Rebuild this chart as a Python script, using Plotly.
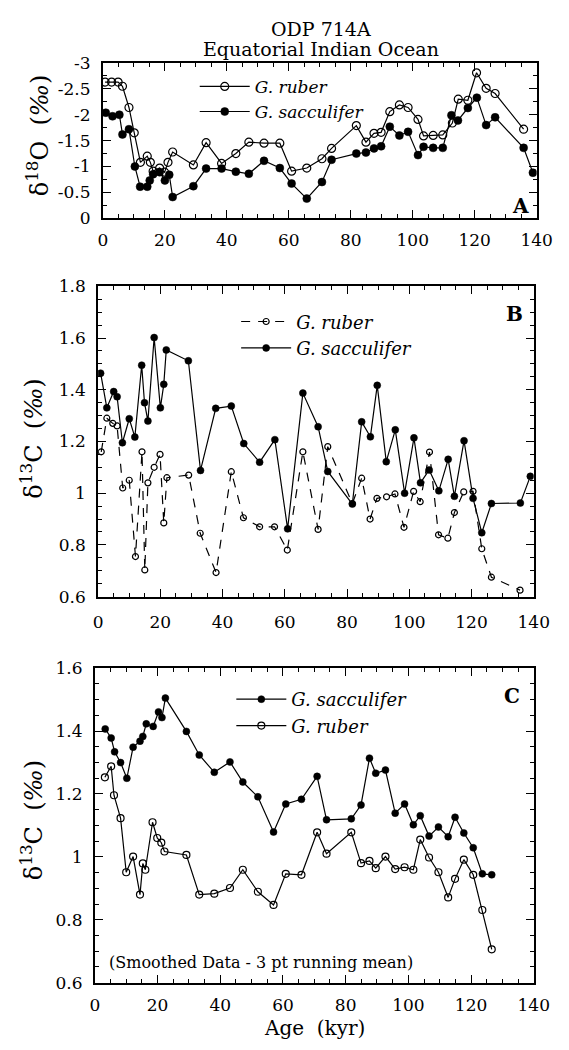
import plotly.graph_objects as go

# ---------------- Data ----------------
# Panel A: delta 18O
a_ruber_age = [0.7, 2.8, 4.9, 6.3, 8.4, 10.1, 12.1, 14.3, 15.3, 16.2, 18.3, 19.9, 21.0, 22.5,
               29.2, 33.3, 38.3, 42.9, 47.1, 52.0, 57.1, 60.9, 65.8, 70.7, 73.8, 81.8, 84.9,
               87.5, 89.8, 92.6, 95.7, 98.5, 101.7, 103.5, 106.6, 109.7, 112.8, 114.7, 117.8,
               120.6, 123.7, 126.6, 135.8]
a_ruber_d18o = [-2.63, -2.63, -2.63, -2.55, -2.14, -1.65, -1.08, -1.20, -1.08, -0.91, -0.97, -0.89,
                -1.08, -1.28, -1.03, -1.46, -1.06, -1.25, -1.47, -1.45, -1.45, -0.91, -0.97, -1.15,
                -1.35, -1.79, -1.47, -1.64, -1.66, -2.06, -2.19, -2.14, -1.91, -1.59, -1.60, -1.61,
                -1.84, -2.30, -2.28, -2.81, -2.51, -2.41, -1.72]
a_sacc_age = [0.9, 3.1, 5.3, 6.3, 8.4, 10.3, 12.0, 14.3, 15.1, 16.2, 18.3, 20.0, 21.4, 22.5,
              29.2, 33.3, 38.3, 42.9, 47.1, 52.0, 57.1, 60.9, 65.8, 70.7, 73.8, 81.8, 84.9,
              87.5, 89.8, 92.6, 95.7, 98.5, 101.7, 103.5, 106.6, 109.7, 112.5, 114.6, 117.8,
              120.7, 123.7, 126.6, 135.8, 138.8]
a_sacc_d18o = [-2.04, -1.97, -2.00, -1.62, -1.72, -1.00, -0.61, -0.61, -0.73, -0.85, -0.89, -0.73,
               -0.84, -0.41, -0.62, -0.96, -0.96, -0.90, -0.86, -1.11, -0.97, -0.67, -0.38, -0.70,
               -1.13, -1.25, -1.27, -1.35, -1.39, -1.77, -1.60, -1.67, -1.22, -1.38, -1.36, -1.36,
               -1.99, -1.89, -2.13, -2.33, -1.80, -1.95, -1.36, -0.88]

# Panel B: delta 13C (raw)
b_ruber_age = [1.0, 2.8, 4.7, 6.1, 7.9, 10.0, 12.0, 14.1, 15.0, 16.0, 18.0, 19.9, 21.1, 22.1,
               29.1, 32.8, 37.9, 42.8, 46.7, 51.9, 56.7, 60.8, 65.8, 70.7, 73.8, 81.7, 84.7,
               87.4, 89.6, 92.7, 95.4, 98.3, 101.4, 103.5, 106.5, 109.4, 112.4, 114.5, 117.5,
               120.5, 123.3, 126.4, 135.6]
b_ruber_d13c = [1.16, 1.29, 1.27, 1.26, 1.02, 1.05, 0.755, 1.16, 0.703, 1.04, 1.10, 1.15, 0.885,
                1.06, 1.07, 0.845, 0.693, 1.083, 0.905, 0.87, 0.87, 0.78, 1.16, 0.86, 1.18, 0.96,
                1.058, 0.90, 0.98, 0.986, 0.997, 0.868, 1.007, 0.967, 1.159, 0.839, 0.826, 0.925,
                1.005, 1.007, 0.785, 0.675, 0.625]
b_sacc_age = [0.8, 2.8, 5.0, 6.1, 7.8, 10.0, 11.8, 14.0, 14.9, 16.0, 18.0, 20.0, 21.1, 21.9,
              29.0, 32.9, 37.8, 42.8, 46.8, 51.9, 56.8, 60.9, 65.8, 70.7, 73.8, 81.7, 84.7,
              87.5, 89.7, 92.6, 95.5, 98.5, 101.5, 103.6, 106.4, 109.5, 112.5, 114.5, 117.6,
              120.5, 123.3, 126.4, 135.7, 138.9]
b_sacc_d13c = [1.464, 1.330, 1.393, 1.373, 1.195, 1.288, 1.217, 1.495, 1.350, 1.279, 1.602,
               1.330, 1.421, 1.554, 1.512, 1.088, 1.328, 1.337, 1.192, 1.120, 1.207, 0.862,
               1.387, 1.257, 1.084, 0.958, 1.276, 1.218, 1.417, 1.122, 1.245, 1.000, 1.214,
               1.040, 1.090, 1.009, 1.131, 0.988, 1.203, 0.980, 0.847, 0.960, 0.962, 1.065]

# Panel C: delta 13C (3-pt running mean)
c_sacc_age = [3.3, 5.2, 6.3, 8.2, 10.2, 12.2, 14.4, 15.3, 16.4, 18.6, 20.3, 21.4, 22.5, 29.2,
              33.3, 38.1, 43.1, 47.2, 52.0, 57.0, 60.9, 65.9, 70.9, 73.9, 81.8, 84.9, 87.6,
              89.6, 92.7, 95.8, 98.8, 101.6, 103.8, 106.6, 109.6, 112.7, 114.9, 117.7, 120.7,
              123.6, 126.6]
c_sacc_d13c = [1.407, 1.378, 1.334, 1.300, 1.250, 1.349, 1.368, 1.383, 1.423, 1.415, 1.461,
               1.443, 1.505, 1.399, 1.324, 1.269, 1.302, 1.238, 1.191, 1.079, 1.168, 1.183,
               1.256, 1.118, 1.121, 1.165, 1.314, 1.266, 1.276, 1.139, 1.168, 1.102, 1.131,
               1.066, 1.095, 1.064, 1.126, 1.076, 1.029, 0.946, 0.943]
c_ruber_age = [3.2, 5.2, 6.1, 8.2, 10.0, 12.2, 14.4, 15.3, 16.1, 18.4, 19.9, 21.2, 22.2, 29.2,
               33.3, 38.1, 43.1, 47.2, 52.0, 57.0, 60.9, 65.9, 70.9, 73.9, 81.8, 84.9, 87.6,
               89.6, 92.7, 95.8, 98.8, 101.6, 103.8, 106.6, 109.6, 112.7, 114.9, 117.7, 120.7,
               123.6, 126.6]
c_ruber_d13c = [1.253, 1.288, 1.196, 1.123, 0.951, 1.001, 0.880, 0.979, 0.959, 1.110, 1.060,
                1.045, 1.017, 1.006, 0.880, 0.883, 0.901, 0.959, 0.889, 0.847, 0.946, 0.943,
                1.078, 1.010, 1.078, 0.980, 0.987, 0.964, 1.001, 0.961, 0.967, 0.959, 1.055,
                0.998, 0.951, 0.871, 0.930, 0.991, 0.943, 0.831, 0.706]

x_ticks = [0, 20, 40, 60, 80, 100, 120, 140]
a_yticks = [-3, -2.5, -2, -1.5, -1, -0.5, 0]
a_yticktext = ["-3", "-2.5", "-2", "-1.5", "-1", "-0.5", "0"]
b_yticks = [0.6, 0.8, 1.0, 1.2, 1.4, 1.6, 1.8]
b_yticktext = ["0.6", "0.8", "1", "1.2", "1.4", "1.6", "1.8"]
c_yticks = [0.6, 0.8, 1.0, 1.2, 1.4, 1.6]
c_yticktext = ["0.6", "0.8", "1", "1.2", "1.4", "1.6"]

# ---------------- Layout helpers ----------------
W, H = 569, 1050
FONT = "DejaVu Serif"


def dx(a, b):
    return [a / W, b / W]


def dy(top, bottom):
    return [1 - bottom / H, 1 - top / H]


def px(x, y):
    return x / W, 1 - y / H


fig = go.Figure()

black = "black"


def open_marker(s):
    return dict(symbol="circle-open", size=s, color=black, line=dict(width=1.2, color=black))


def fill_marker(s):
    return dict(symbol="circle", size=s, color=black, line=dict(width=0.5, color=black))


# Panel A
fig.add_trace(go.Scatter(x=a_ruber_age, y=a_ruber_d18o, mode="lines+markers", name="<i>G. ruber</i>",
                         line=dict(color=black, width=1.2), marker=open_marker(8),
                         xaxis="x", yaxis="y", legend="legend"))
fig.add_trace(go.Scatter(x=a_sacc_age, y=a_sacc_d18o, mode="lines+markers", name="<i>G. sacculifer</i>",
                         line=dict(color=black, width=1.2), marker=fill_marker(8),
                         xaxis="x", yaxis="y", legend="legend"))
# Panel B
fig.add_trace(go.Scatter(x=b_ruber_age, y=b_ruber_d13c, mode="lines+markers", name="<i>G. ruber</i>",
                         line=dict(color=black, width=1.2, dash="9px,8px"), marker=open_marker(6),
                         xaxis="x2", yaxis="y2", legend="legend2"))
fig.add_trace(go.Scatter(x=b_sacc_age, y=b_sacc_d13c, mode="lines+markers", name="<i>G. sacculifer</i>",
                         line=dict(color=black, width=1.2), marker=fill_marker(7),
                         xaxis="x2", yaxis="y2", legend="legend2"))
# Panel C
fig.add_trace(go.Scatter(x=c_sacc_age, y=c_sacc_d13c, mode="lines+markers", name="<i>G. sacculifer</i>",
                         line=dict(color=black, width=1.2), marker=fill_marker(7),
                         xaxis="x3", yaxis="y3", legend="legend3"))
fig.add_trace(go.Scatter(x=c_ruber_age, y=c_ruber_d13c, mode="lines+markers", name="<i>G. ruber</i>",
                         line=dict(color=black, width=1.2), marker=open_marker(7),
                         xaxis="x3", yaxis="y3", legend="legend3"))

tickfont = dict(family=FONT, size=17, color=black)


def xaxis(domain, anchor, standoff):
    return dict(domain=domain, anchor=anchor, range=[0, 140], tickvals=x_ticks,
                ticks="inside", ticklen=8, tickwidth=1.3, tickcolor=black,
                minor=dict(dtick=5, tick0=0, ticks="inside", ticklen=4, tickwidth=1, tickcolor=black),
                showline=True, linewidth=2, linecolor=black, mirror="allticks",
                showgrid=False, zeroline=False, tickfont=tickfont, ticklabelstandoff=standoff)


def yaxis(domain, anchor, rng, tv, tt, mdt):
    return dict(domain=domain, anchor=anchor, range=rng, tickvals=tv, ticktext=tt,
                ticks="inside", ticklen=8, tickwidth=1.3, tickcolor=black,
                minor=dict(dtick=mdt, ticks="inside", ticklen=4, tickwidth=1, tickcolor=black),
                showline=True, linewidth=2, linecolor=black, mirror="allticks",
                showgrid=False, zeroline=False, tickfont=tickfont, ticklabelstandoff=7)


lx, ly = px(197, 60)
l2x, l2y = px(240, 299)
l3x, l3y = px(235, 684)
fig.update_layout(
    width=W, height=H, margin=dict(l=0, r=0, t=0, b=0),
    paper_bgcolor="white", plot_bgcolor="white",
    font=dict(family=FONT, color=black),
    xaxis=xaxis(dx(101.7, 552), "y", 5),
    yaxis=yaxis(dy(54, 212.3), "x", [0, -3], a_yticks, a_yticktext, 0.25),
    xaxis2=xaxis(dx(96.7, 549), "y2", 9),
    yaxis2=yaxis(dy(281.7, 598), "x2", [0.6, 1.8], b_yticks, b_yticktext, 0.05),
    xaxis3=xaxis(dx(93.3, 549), "y3", 6),
    yaxis3=yaxis(dy(671, 991.5), "x3", [0.6, 1.6], c_yticks, c_yticktext, 0.05),
    legend=dict(x=lx, y=ly, xanchor="left", yanchor="top",
                font=dict(family=FONT, size=17, color=black),
                bgcolor="rgba(0,0,0,0)", itemwidth=50),
    legend2=dict(x=l2x, y=l2y, xanchor="left", yanchor="top",
                 font=dict(family=FONT, size=18, color=black),
                 bgcolor="rgba(0,0,0,0)", itemwidth=50),
    legend3=dict(x=l3x, y=l3y, xanchor="left", yanchor="top",
                 font=dict(family=FONT, size=18, color=black),
                 bgcolor="rgba(0,0,0,0)", itemwidth=50),
    showlegend=True,
)


def note(text, x, y, size, xanchor="center", yanchor="middle", **kw):
    ax, ay = px(x, y)
    d = dict(text=text, x=ax, y=ay, xref="paper", yref="paper", showarrow=False,
             xanchor=xanchor, yanchor=yanchor,
             font=dict(family=FONT, size=size, color=black))
    d.update(kw)
    return d


ann = [
    note("ODP 714A", 328, 19, 19),
    note("Equatorial Indian Ocean", 328, 40, 19),
    note("δ<sup>18</sup>O  (<i>‰</i>)", 34, 128, 24, textangle=-90),
    note("δ<sup>13</sup>C  (<i>‰</i>)", 28, 437, 24, textangle=-90),
    note("δ<sup>13</sup>C  (<i>‰</i>)", 28, 826, 24, textangle=-90),
    note("Age  (kyr)", 321, 1038, 20),
    note("<b>A</b>", 546, 200, 20, xanchor="right"),
    note("<b>B</b>", 540, 310, 20, xanchor="right"),
    note("<b>C</b>", 537, 699, 20, xanchor="right"),
    note("(Smoothed Data - 3 pt running mean)", 106, 971, 16, xanchor="left"),
]
fig.update_layout(annotations=ann)

fig.write_html("out.html", config={"displayModeBar": False},
               post_script="document.body.style.margin='0px';document.body.style.overflow='hidden';")
